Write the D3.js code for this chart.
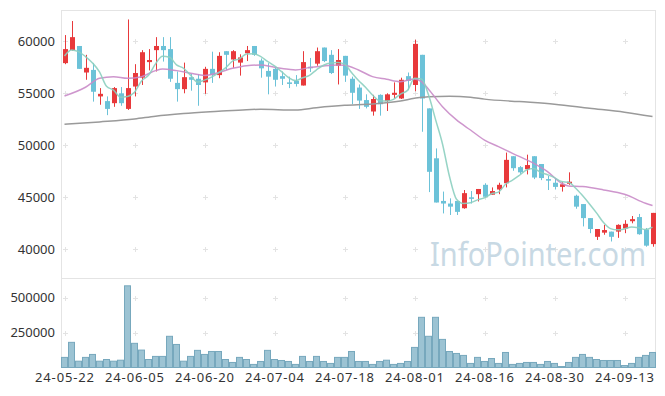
<!DOCTYPE html>
<html>
<head>
<meta charset="utf-8">
<script src="https://cdn.jsdelivr.net/npm/d3@7"></script>
<style>
  body { margin: 0; background: #fff; }
  svg { display: block; font-family: 'Noto Sans', sans-serif; }
</style>
</head>
<body>
<div class="chart"></div>
<script>
const WIDTH = 665;
const HEIGHT = 396;

const dates = [
  '24-05-22', '24-05-23', '24-05-24', '24-05-27', '24-05-28', '24-05-29', '24-05-30', '24-05-31',
  '24-06-03', '24-06-04', '24-06-05', '24-06-07', '24-06-10', '24-06-11', '24-06-12', '24-06-13',
  '24-06-14', '24-06-17', '24-06-18', '24-06-19', '24-06-20', '24-06-21', '24-06-24', '24-06-25',
  '24-06-26', '24-06-27', '24-06-28', '24-07-01', '24-07-02', '24-07-03', '24-07-04', '24-07-05',
  '24-07-08', '24-07-09', '24-07-10', '24-07-11', '24-07-12', '24-07-15', '24-07-16', '24-07-17',
  '24-07-18', '24-07-19', '24-07-22', '24-07-23', '24-07-24', '24-07-25', '24-07-26', '24-07-29',
  '24-07-30', '24-07-31', '24-08-01', '24-08-02', '24-08-05', '24-08-06', '24-08-07', '24-08-08',
  '24-08-09', '24-08-12', '24-08-13', '24-08-14', '24-08-16', '24-08-19', '24-08-20', '24-08-21',
  '24-08-22', '24-08-23', '24-08-26', '24-08-27', '24-08-28', '24-08-29', '24-08-30', '24-09-02',
  '24-09-03', '24-09-04', '24-09-05', '24-09-06', '24-09-09', '24-09-10', '24-09-11', '24-09-12',
  '24-09-13', '24-09-19', '24-09-20', '24-09-23', '24-09-24'
];

const open = [
  57900, 59150, 59550, 57000, 57250, 54700, 54250, 54050, 55000, 53500,
  55650, 56500, 58000, 59150, 59550, 59250, 56000, 55400, 56550, 56400,
  56050, 57350, 56750, 59050, 58250, 57950, 58850, 59550, 58150, 57150,
  57350, 56650, 56050, 56200, 55750, 57550, 57850, 59400, 58700, 57650,
  58600, 56400, 55550, 54350, 53250, 54850, 54250, 54850, 54500, 56650,
  55800, 58700, 53550, 48750, 44650, 44400, 44650, 43950, 45000, 45300,
  46200, 45250, 45750, 46350, 48950, 47900, 47700, 48950, 48200, 46750,
  46400, 46000, 46300, 45150, 44350, 43000, 41200, 41600, 41700, 41700,
  42000, 42700, 43100, 41900, 40500
];
const high = [
  60600, 61950, 59550, 58700, 57900, 55500, 54700, 55600, 55600, 62100,
  57800, 59150, 59250, 60400, 60400, 60400, 57100, 57950, 56850, 56850,
  57550, 59000, 58950, 59050, 59150, 58750, 59550, 59550, 58350, 57900,
  57550, 57100, 56600, 56750, 59050, 58400, 59400, 59400, 59150, 59250,
  58600, 56600, 55850, 54900, 54850, 54900, 55000, 56050, 56500, 57000,
  60150, 58700, 53550, 49700, 45550, 44900, 44650, 45700, 45600, 45800,
  46350, 45950, 46400, 49300, 48950, 48000, 49100, 48950, 48200, 47050,
  46850, 46450, 47400, 45250, 44350, 43000, 41950, 42350, 41700, 42400,
  42800, 43200, 43400, 42050, 43500
];
const low = [
  57800, 59100, 57350, 56300, 54200, 53900, 52900, 53700, 53800, 53400,
  54700, 55800, 57200, 57100, 58050, 56100, 54200, 55000, 55250, 53800,
  54950, 56000, 56450, 57250, 57450, 56700, 58100, 58600, 56500, 54900,
  55650, 55800, 55500, 55650, 55750, 57050, 57650, 58000, 56850, 55850,
  56100, 53950, 53500, 53550, 52850, 52850, 53300, 54500, 54450, 55300,
  55200, 51300, 45500, 44500, 43450, 43300, 43300, 43900, 44400, 44600,
  45000, 45250, 45300, 45950, 47550, 47250, 47200, 46750, 46650, 45700,
  45750, 45550, 46200, 43900, 42200, 41550, 40900, 41400, 40750, 41100,
  41550, 42500, 41400, 40250, 40250
];
const close = [
  59250, 60400, 57350, 57450, 55150, 54950, 53500, 55500, 54050, 55500,
  56950, 58950, 58200, 59550, 59150, 56400, 55400, 56550, 56300, 55800,
  57350, 56750, 58600, 58700, 59050, 58450, 59150, 58700, 57400, 56600,
  56300, 56400, 55900, 55900, 58000, 57450, 59050, 58100, 56950, 58200,
  56700, 55050, 54300, 53700, 54450, 53950, 54900, 55050, 56300, 56200,
  59750, 54500, 47450, 44500, 44400, 44100, 43600, 45400, 44850, 45800,
  45050, 45600, 46200, 48600, 47800, 47400, 48100, 46900, 46850, 46600,
  46000, 46250, 46500, 44100, 43000, 41950, 41950, 41850, 41200, 42350,
  42450, 42900, 41450, 40350, 43500
];
const volume = [
  79000, 186000, 52000, 79000, 100000, 52000, 64000, 52000, 59000, 588000,
  179000, 131000, 64000, 86000, 86000, 229000, 171000, 52000, 86000, 129000,
  100000, 121000, 121000, 64000, 43000, 79000, 64000, 29000, 50000, 129000,
  64000, 57000, 50000, 29000, 86000, 50000, 86000, 50000, 36000, 79000,
  79000, 121000, 50000, 50000, 29000, 50000, 59000, 29000, 36000, 50000,
  150000, 364000, 229000, 364000, 207000, 121000, 107000, 93000, 36000, 79000,
  50000, 71000, 36000, 114000, 29000, 36000, 43000, 43000, 29000, 50000,
  36000, 14000, 43000, 79000, 100000, 79000, 64000, 57000, 57000, 57000,
  21000, 36000, 79000, 93000, 114000
];

// moving averages
const ma5 = [
  58590, 59170, 59010, 58530, 57920, 57060, 55680, 55310, 54630, 54700,
  55100, 56190, 56730, 57830, 58560, 58460, 57740, 57410, 56750, 56080,
  56270, 56550, 56960, 57440, 58090, 58310, 58790, 58810, 58550, 58060,
  57630, 57080, 56520, 56220, 56490, 56730, 57260, 57700, 57910, 57950,
  57800, 57000, 56240, 55590, 54840, 54290, 54260, 54420, 54930, 55280,
  56440, 56370, 54850, 52490, 50130, 47000, 44820, 44400, 44470, 44750,
  44940, 45340, 45500, 46250, 46650, 47120, 47620, 47760, 47410, 47170,
  46890, 46520, 46440, 45900, 45170, 44360, 43500, 42570, 41990, 41870,
  41960, 42150, 42070, 41900, 42140
];
const ma20 = [
  [0, 54740], [3, 55580], [5, 56440], [7, 56600], [9, 56440], [11, 56600],
  [13, 57180], [14, 57340], [16, 57180], [18, 56930], [20, 56720], [22, 57000],
  [24, 57400], [26, 57660], [28, 57720], [30, 57500], [32, 57310], [33, 57250],
  [35, 57470], [37, 57630], [39, 57720], [40, 57700], [42, 57240], [44, 56600],
  [46, 56350], [48, 56120], [50, 56380], [51, 56120], [52, 55400], [54, 53710],
  [56, 52440], [58, 51470], [60, 50500], [62, 49870], [64, 49230], [67, 48280],
  [69, 47470], [71, 46350], [72, 46090], [74, 46030], [77, 45710], [80, 45290],
  [83, 44430], [84, 44200]
];
const ma120 = [
  [0, 52020], [5, 52250], [10, 52530], [13, 52800], [17, 53050], [22, 53270],
  [26, 53430], [28, 53460], [33, 53400], [36, 53620], [40, 53850], [44, 53970],
  [48, 54260], [50, 54520], [52, 54680], [55, 54710], [58, 54620], [60, 54440],
  [65, 54200], [70, 53950], [75, 53560], [80, 53180], [84, 52760]
];

const priceTicks = [40000, 45000, 50000, 55000, 60000];
const volumeTicks = [250000, 500000];
const dateTicks = ['24-05-22', '24-06-05', '24-06-20', '24-07-04', '24-07-18',
  '24-08-01', '24-08-16', '24-08-30', '24-09-13'];

const UP = '#e8393b';
const DOWN = '#6cc2d8';
const GRID = '#e4e4e4';

const svg = d3.select('.chart')
              .append('svg')
              .attr('width', WIDTH)
              .attr('height', HEIGHT);

const x = d3.scaleBand().domain(d3.range(dates.length)).range([61, 656]);
const cx = (i) => x(i) + x.bandwidth() / 2;
const y = d3.scaleLinear().domain([37240, 63010]).range([278, 10]);
const vy = d3.scaleLinear().domain([0, 640000]).range([368, 278]);

// frame
svg.append('rect')
    .attr('x', 61.5).attr('y', 10.5)
    .attr('width', 594).attr('height', 357)
    .attr('fill', 'none').attr('stroke', GRID);
svg.append('line')
    .attr('x1', 61).attr('x2', 656)
    .attr('y1', 278.5).attr('y2', 278.5)
    .attr('stroke', GRID);

// grid crosses
const tickIdx = dateTicks.map((d) => dates.indexOf(d));
const crossY = priceTicks.map((p) => y(p)).concat(volumeTicks.map((v) => vy(v)));
const crosses = [];
tickIdx.forEach((i) => crossY.forEach((yy) => crosses.push([Math.round(cx(i)) + 0.5, Math.round(yy) + 0.5])));
const cross = svg.append('g').attr('stroke', '#e3e3e3').attr('stroke-width', 1);
cross.selectAll('.h').data(crosses).enter().append('line')
    .attr('x1', (d) => d[0] - 2.5).attr('x2', (d) => d[0] + 2.5)
    .attr('y1', (d) => d[1]).attr('y2', (d) => d[1]);
cross.selectAll('.v').data(crosses).enter().append('line')
    .attr('x1', (d) => d[0]).attr('x2', (d) => d[0])
    .attr('y1', (d) => d[1] - 2.5).attr('y2', (d) => d[1] + 2.5);

// watermark
svg.append('text')
    .attr('x', 430).attr('y', 266)
    .attr('textLength', 216).attr('lengthAdjust', 'spacingAndGlyphs')
    .style('font-size', '32px')
    .attr('fill', '#c8d9e4')
    .text('InfoPointer.com');

// axes labels
const axisText = svg.append('g')
    .attr('fill', '#333')
    .style('font-size', '13px');
axisText.selectAll('.py').data(priceTicks).enter().append('text')
    .attr('x', 55).attr('y', (d) => y(d) + 4.6)
    .attr('text-anchor', 'end')
    .text((d) => d);
axisText.selectAll('.vy').data(volumeTicks).enter().append('text')
    .attr('x', 55).attr('y', (d) => vy(d) + 4.6)
    .attr('text-anchor', 'end')
    .text((d) => d);
axisText.selectAll('.dx').data(tickIdx).enter().append('text')
    .attr('x', (i) => cx(i)).attr('y', 382)
    .attr('text-anchor', 'middle')
    .attr('textLength', 59).attr('lengthAdjust', 'spacing')
    .text((i) => dates[i]);

// volume bars
svg.append('g').selectAll('rect').data(volume).enter().append('rect')
    .attr('x', (v, i) => x(i) + 0.5)
    .attr('y', (v) => vy(v) + 0.5)
    .attr('width', x.bandwidth() - 1)
    .attr('height', (v) => 367 - vy(v))
    .attr('fill', '#9cc3d3')
    .attr('stroke', '#77a8bd')
    .attr('stroke-width', 1);

// candles
const candles = svg.append('g').selectAll('g').data(dates).enter().append('g')
    .attr('fill', (d, i) => close[i] >= open[i] ? UP : DOWN)
    .attr('stroke', (d, i) => close[i] >= open[i] ? UP : DOWN);
candles.append('line')
    .attr('x1', (d, i) => Math.round(cx(i)) + 0.5)
    .attr('x2', (d, i) => Math.round(cx(i)) + 0.5)
    .attr('y1', (d, i) => y(high[i]))
    .attr('y2', (d, i) => y(low[i]))
    .attr('stroke-width', 1);
candles.append('rect')
    .attr('x', (d, i) => Math.round(cx(i)) - 2)
    .attr('width', 5)
    .attr('y', (d, i) => y(Math.max(open[i], close[i])))
    .attr('height', (d, i) => Math.max(1.5, Math.abs(y(open[i]) - y(close[i]))))
    .attr('stroke', 'none');

// moving average lines
const maLine = d3.line().curve(d3.curveMonotoneX);
svg.append('path')
    .attr('d', maLine(ma120.map((p) => [cx(p[0]), y(p[1])])))
    .attr('fill', 'none').attr('stroke', '#9a9a9a').attr('stroke-width', 1.5);
svg.append('path')
    .attr('d', maLine(ma20.map((p) => [cx(p[0]), y(p[1])])))
    .attr('fill', 'none').attr('stroke', '#c98bc8').attr('stroke-width', 1.5)
    .attr('opacity', 0.9);
svg.append('path')
    .attr('d', maLine(ma5.map((v, i) => [cx(i), y(v)])))
    .attr('fill', 'none').attr('stroke', '#8ccfc0').attr('stroke-width', 1.5)
    .attr('opacity', 0.9);
</script>
</body>
</html>
